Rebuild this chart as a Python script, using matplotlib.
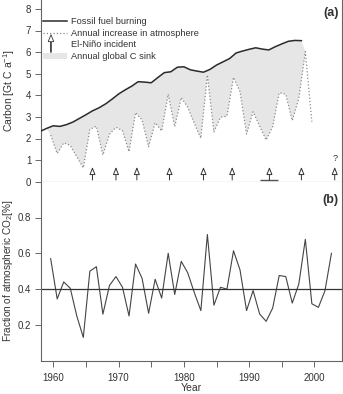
import numpy as np
import matplotlib.pyplot as plt
from matplotlib.lines import Line2D
from matplotlib.patches import Patch, FancyArrow
from matplotlib.legend_handler import HandlerPatch

plt.rcParams['font.family'] = ['Liberation Sans', 'DejaVu Sans']
plt.rcParams['mathtext.fontset'] = 'custom'
plt.rcParams['mathtext.rm'] = 'Liberation Sans'
plt.rcParams['mathtext.it'] = 'Liberation Sans:italic'

# fossil fuel emissions (Gt C / a)
fossil_years = np.arange(1958, 1999)
fossil = [2.33, 2.47, 2.59, 2.56, 2.64, 2.76, 2.93, 3.10, 3.28, 3.42,
          3.60, 3.82, 4.06, 4.25, 4.42, 4.63, 4.61, 4.58, 4.82, 5.05,
          5.09, 5.30, 5.32, 5.18, 5.12, 5.07, 5.20, 5.40, 5.55, 5.70,
          5.96, 6.05, 6.13, 6.20, 6.14, 6.10, 6.25, 6.38, 6.50, 6.54,
          6.53]

# annual increase in atmosphere (Gt C / a)
incr_years = np.arange(1959, 2000)
increase = [2.16, 1.31, 1.80, 1.68, 1.16, 0.64, 2.42, 2.57, 1.24, 2.20,
            2.52, 2.36, 1.39, 3.20, 2.86, 1.62, 2.73, 2.35, 4.05, 2.55,
            3.89, 3.44, 2.70, 2.01, 4.94, 2.31, 2.98, 3.04, 4.83, 4.17,
            2.21, 3.24, 2.58, 1.93, 2.55, 4.12, 4.05, 2.83, 3.86, 6.02,
            2.78]

# airborne fraction
frac_years = np.arange(1959, 2003)
fraction = [0.57, 0.345, 0.44, 0.405, 0.25, 0.13, 0.50, 0.525, 0.26, 0.42,
            0.47, 0.41, 0.25, 0.54, 0.46, 0.265, 0.455, 0.35, 0.60, 0.37,
            0.555, 0.49, 0.38, 0.28, 0.705, 0.31, 0.41, 0.40, 0.614, 0.507,
            0.28, 0.392, 0.261, 0.22, 0.294, 0.476, 0.47, 0.322, 0.428, 0.678,
            0.318, 0.298, 0.39, 0.60]
mean_fraction = 0.4

# El Nino events
nino = [1966.0, 1969.6, 1972.8, 1977.8, 1983.0, 1987.4, 1993.1, 1998.0, 2003.1]
nino_span = (1991.6, 1994.4)

mid = 0.6  # values plotted at mid-year
tc = '#333333'
sc = '#666666'

fig = plt.figure(figsize=(3.43, 3.94), dpi=100)
L, R = 41 / 343, 341.7 / 343
ax1 = fig.add_axes([L, 1 - 181.7 / 394, R - L, 181.7 / 394])
ax2 = fig.add_axes([L, 1 - 360.7 / 394, R - L, 179 / 394], sharex=ax1)

ix = incr_years + mid
# C sink area between the two curves
m = fossil_years >= 1959
keep = incr_years <= 1998
ax1.fill(np.r_[fossil_years[m], ix[keep][::-1]],
         np.r_[np.array(fossil)[m], np.array(increase)[keep][::-1]],
         color='#e6e6e6', lw=0, zorder=1)
ax1.plot(fossil_years, fossil, color='#2b2b2b', lw=1.1, zorder=3)
ax1.plot(ix, increase, color='#8a8a8a', lw=0.9, ls=':', zorder=3)

for x in nino:
    ax1.annotate('', xy=(x, 0.68), xytext=(x, 0.08),
                 arrowprops=dict(arrowstyle='-|>,head_length=0.45,head_width=0.18',
                                 fc='white', ec='#333333', lw=0.7, shrinkA=0, shrinkB=0))
ax1.hlines(0.1, *nino_span, color='#555555', lw=1.0)
ax1.text(nino[-1], 0.85, '?', ha='center', va='bottom', fontsize=6.5, color=tc)

ax1.set_ylim(0, 181.7 / 21.6)
ax1.set_yticks(range(0, 9))
ax1.set_xlim(1958.12, 2004.17)
ax1.set_xticks(range(1960, 2001, 5))
ax1.tick_params(axis='x', labelbottom=False, direction='out', length=4, width=0.7, color=sc)
ax1.tick_params(axis='y', direction='out', length=4, width=0.7, color=sc,
                labelsize=7, labelcolor=tc, pad=3)
ax1.spines['top'].set_visible(False)
for s in ['left', 'right', 'bottom']:
    ax1.spines[s].set_color(sc)
    ax1.spines[s].set_linewidth(0.8)
ax1.set_ylabel('Carbon [Gt C a$^{-1}$]', fontsize=7.5, color=tc)
ax1.yaxis.set_label_coords(-0.08, 0.5)
ax1.text(0.99, 0.93, '(a)', transform=ax1.transAxes, ha='right', va='center',
         fontsize=9, fontweight='bold', color=tc)


def make_arrow(legend, orig_handle, xdescent, ydescent, width, height, fontsize):
    return FancyArrow(width * 0.35, -ydescent - 3.5, 0, height + 8, width=0.5,
                      head_width=4, head_length=5, length_includes_head=True)


arrow_handle = Patch(facecolor='white', edgecolor='#333333', lw=0.6)
handles = [Line2D([], [], color='#2b2b2b', lw=1.1),
           Line2D([], [], color='#8a8a8a', lw=0.9, ls=':'),
           arrow_handle,
           Patch(facecolor='#e6e6e6', edgecolor='none')]
labels = ['Fossil fuel burning', 'Annual increase in atmosphere',
          'El-Niño incident', 'Annual global C sink']
ax1.legend(handles, labels, loc='upper left', bbox_to_anchor=(0.005, 0.905),
           frameon=False, fontsize=6.7, handlelength=2.6, handletextpad=0.45,
           labelspacing=0.28, borderpad=0, borderaxespad=0, labelcolor=tc,
           handler_map={arrow_handle: HandlerPatch(patch_func=make_arrow)})

ax2.plot(frac_years + mid, fraction, color='#444444', lw=0.8)
ax2.axhline(mean_fraction, color='#333333', lw=0.9)
ax2.set_ylim(0, 1.0)
ax2.set_yticks([0.2, 0.4, 0.6, 0.8])
ax2.set_xticks(range(1960, 2001, 5))
ax2.set_xticklabels(['1960', '', '1970', '', '1980', '', '1990', '', '2000'])
ax2.tick_params(direction='out', length=4, width=0.7, color=sc,
                labelsize=7, labelcolor=tc, pad=3)
ax2.tick_params(axis='x', pad=4.5)
ax2.spines['top'].set_visible(False)
for s in ['left', 'right', 'bottom']:
    ax2.spines[s].set_color(sc)
    ax2.spines[s].set_linewidth(0.8)
ax2.set_ylabel('Fraction of atmospheric CO$_2$[%]', fontsize=7.2, color=tc)
ax2.yaxis.set_label_coords(-0.088, 0.5)
ax2.set_xlabel('Year', fontsize=7.5, color=tc, labelpad=0)
ax2.text(0.99, 0.9, '(b)', transform=ax2.transAxes, ha='right', va='center',
         fontsize=9, fontweight='bold', color=tc)

fig.savefig('out.png', dpi=100)
